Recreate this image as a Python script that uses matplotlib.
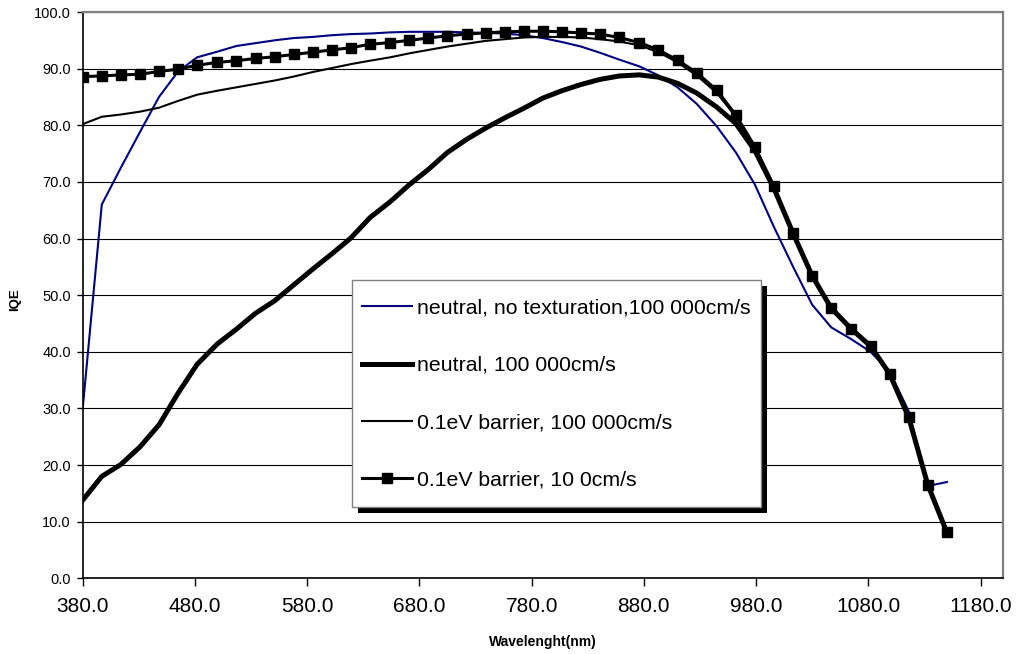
import matplotlib
matplotlib.use("Agg")
import matplotlib.pyplot as plt
from matplotlib.patches import Rectangle

plt.rcParams['font.family'] = ['Liberation Sans', 'DejaVu Sans']

# Data (IQE in %, wavelength in nm)
wavelength = [380, 397, 414, 431, 448, 465, 482, 500, 517, 534, 551, 568,
              585, 602, 619, 636, 654, 671, 688, 705, 722, 739, 756, 773,
              790, 807, 824, 841, 858, 876, 893, 910, 927, 945, 962, 979,
              996, 1013, 1030, 1047, 1065, 1082, 1099, 1116, 1133, 1150]

neutral_no_tex = [30.0, 66.0, 72.5, 78.8, 85.0, 89.5, 92.0, 93.0, 94.0, 94.5,
                  95.0, 95.4, 95.6, 95.9, 96.1, 96.2, 96.4, 96.5, 96.5, 96.5,
                  96.4, 96.3, 96.2, 95.9, 95.4, 94.7, 93.9, 92.8, 91.6, 90.4,
                  88.8, 86.7, 83.8, 79.8, 75.2, 69.5, 62.0, 55.0, 48.3, 44.3,
                  42.2, 40.0, 36.5, 29.5, 16.3, 17.0]

neutral = [13.8, 18.0, 20.1, 23.2, 27.1, 32.7, 37.8, 41.4, 44.0, 46.8,
           49.0, 51.8, 54.6, 57.3, 60.1, 63.7, 66.5, 69.5, 72.2, 75.2,
           77.5, 79.5, 81.3, 83.0, 84.8, 86.1, 87.2, 88.1, 88.7, 88.9,
           88.5, 87.4, 85.7, 83.2, 80.3, 75.5, 68.8, 60.9, 53.4, 47.7,
           44.0, 41.0, 36.1, 28.4, 16.5, 8.1]

barrier = [80.2, 81.5, 81.9, 82.4, 83.1, 84.3, 85.4, 86.1, 86.7, 87.3,
           87.9, 88.6, 89.4, 90.1, 90.8, 91.4, 92.0, 92.7, 93.3, 93.9,
           94.4, 94.9, 95.2, 95.5, 95.6, 95.6, 95.5, 95.2, 94.8, 94.1,
           92.9, 91.1, 88.8, 85.7, 81.5, 76.0, 69.0, 61.0, 53.3, 47.6,
           44.0, 40.9, 36.0, 28.4, 16.5, 8.1]

barrier_low_s = [88.6, 88.7, 88.9, 89.0, 89.5, 89.9, 90.6, 91.1, 91.4, 91.8,
                 92.1, 92.5, 92.9, 93.3, 93.7, 94.3, 94.6, 95.0, 95.4, 95.8,
                 96.1, 96.3, 96.5, 96.6, 96.6, 96.5, 96.3, 96.1, 95.5, 94.6,
                 93.3, 91.5, 89.3, 86.2, 81.8, 76.2, 69.2, 60.9, 53.4, 47.7,
                 44.0, 41.0, 36.1, 28.4, 16.5, 8.1]

labels = ["neutral, no texturation,100 000cm/s",
          "neutral, 100 000cm/s",
          "0.1eV barrier, 100 000cm/s",
          "0.1eV barrier, 10 0cm/s"]

xticks = [380, 480, 580, 680, 780, 880, 980, 1080, 1180]
yticks = [0, 10, 20, 30, 40, 50, 60, 70, 80, 90, 100]

W, H = 1016, 654


def fx(px):
    return px / W


def fy(py):
    return 1 - py / H


fig = plt.figure(figsize=(W / 100, H / 100), dpi=100)
ax = fig.add_axes([fx(82.7), fy(578.3), (1003 - 82.7) / W, (578.3 - 12) / H])

h1, = ax.plot(wavelength, neutral_no_tex, color="#000080", lw=1.5, label=labels[0])
h2, = ax.plot(wavelength, neutral, color="black", lw=3.6, label=labels[1])
h3, = ax.plot(wavelength, barrier, color="black", lw=1.5, label=labels[2])
h4, = ax.plot(wavelength, barrier_low_s, color="black", lw=2.2, marker="s",
              markersize=6.5, label=labels[3])

ax.set_xlim(380, 1200)
ax.set_ylim(0, 100)
ax.set_xticks(xticks)
ax.set_xticklabels([f"{v:.1f}" for v in xticks], fontsize=15)
ax.set_yticks(yticks)
ax.set_yticklabels([f"{v:.1f}" for v in yticks], fontsize=10.5)
ax.tick_params(axis="x", direction="out", length=5.5, width=1, pad=8)
ax.tick_params(axis="y", direction="out", length=4, width=1, pad=4.5)

ax.yaxis.grid(True, color="black", lw=0.8)
ax.set_axisbelow(True)
for side in ("top", "right"):
    ax.spines[side].set_color("#808080")
    ax.spines[side].set_linewidth(1.6)
for side in ("left", "bottom"):
    ax.spines[side].set_color("black")
    ax.spines[side].set_linewidth(1.2)

ax.set_xlabel("Wavelenght(nm)", fontsize=10, fontweight="bold")
ax.xaxis.set_label_coords(0.5, -(641.7 - 578.3) / (578.3 - 12))
ax.xaxis.label.set_va("center")
ax.set_ylabel("IQE", fontsize=9.5, fontweight="bold")
ax.yaxis.set_label_coords((15 - 82.7) / (1003 - 82.7), (578.3 - 300) / (578.3 - 12))
ax.yaxis.label.set_va("center")

# legend box with solid black drop shadow
bw = (760.7 - 351.7) / W
bh = (507.3 - 280) / H
ax.add_patch(Rectangle((fx(357.5), fy(513.3)), bw, bh, transform=fig.transFigure,
                       facecolor="black", edgecolor="none", clip_on=False, zorder=4))
ax.add_patch(Rectangle((fx(351.7), fy(507.3)), bw, bh, transform=fig.transFigure,
                       facecolor="white", edgecolor="#808080", lw=1, clip_on=False, zorder=4.5))
ax.legend(handles=[h1, h2, h3, h4], loc="upper left",
          bbox_to_anchor=(fx(361.7), fy(298.7)), bbox_transform=fig.transFigure,
          frameon=False, borderpad=0, borderaxespad=0, handlelength=2.35,
          handletextpad=0.26, labelspacing=1.80, fontsize=15.3)

fig.savefig("out.png", dpi=100)
